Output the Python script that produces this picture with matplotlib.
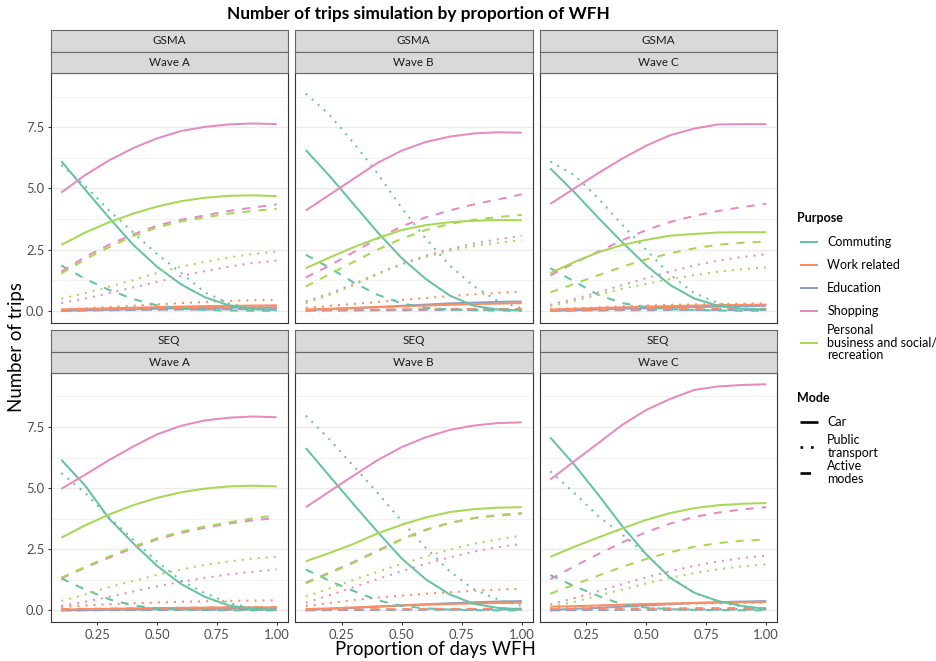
import matplotlib
matplotlib.use("Agg")
import matplotlib.pyplot as plt

plt.rcParams['font.family'] = ['Lato', 'DejaVu Sans']

W, H = 936, 661

# ---------------- data ----------------
wfh = [0.1, 0.2, 0.3, 0.4, 0.5, 0.6, 0.7, 0.8, 0.9, 1.0]

regions = ["GSMA", "SEQ"]
waves = ["Wave A", "Wave B", "Wave C"]
purposes = ["Commuting", "Work related", "Education", "Shopping",
            "Personal\nbusiness and social/\nrecreation"]
purpose_colors = ["#66C2A5", "#FC8D62", "#8DA0CB", "#E78AC3", "#A6D854"]
modes = ["Car", "Public\ntransport", "Active\nmodes"]

# each list: [Car, Public transport, Active modes]
GSMA_A_COMMUTING = [[6.12, 4.95, 3.8, 2.7, 1.8, 1.08, 0.55, 0.22, 0.07, 0.03],
                    [5.96, 5.1, 4.1, 3.2, 2.32, 1.55, 0.75, 0.3, 0.08, 0.02],
                    [1.85, 1.3, 0.85, 0.48, 0.22, 0.08, 0.03, 0.01, 0.0, 0.0]]
GSMA_A_WORK = [[0.05, 0.08, 0.1, 0.12, 0.15, 0.17, 0.19, 0.2, 0.21, 0.22],
               [0.05, 0.1, 0.15, 0.2, 0.26, 0.31, 0.36, 0.4, 0.43, 0.45],
               [0.02, 0.04, 0.06, 0.08, 0.1, 0.11, 0.12, 0.13, 0.14, 0.14]]
GSMA_A_EDUCATION = [[0.0, 0.02, 0.04, 0.06, 0.08, 0.1, 0.11, 0.12, 0.13, 0.13],
                    [0.0, 0.01, 0.02, 0.03, 0.04, 0.05, 0.06, 0.07, 0.08, 0.08],
                    [0.0, 0.01, 0.02, 0.03, 0.04, 0.05, 0.05, 0.06, 0.06, 0.06]]
GSMA_A_SHOPPING = [[4.83, 5.55, 6.15, 6.65, 7.05, 7.35, 7.52, 7.62, 7.66, 7.63],
                   [0.31, 0.5, 0.72, 0.95, 1.18, 1.42, 1.62, 1.8, 1.95, 2.05],
                   [1.6, 2.2, 2.7, 3.12, 3.48, 3.72, 3.9, 4.08, 4.22, 4.35]]
GSMA_A_PERSONAL = [[2.69, 3.2, 3.62, 3.97, 4.26, 4.48, 4.62, 4.7, 4.72, 4.69],
                   [0.49, 0.72, 0.98, 1.25, 1.55, 1.8, 2.0, 2.18, 2.32, 2.42],
                   [1.52, 2.1, 2.6, 3.05, 3.4, 3.65, 3.82, 3.97, 4.08, 4.17]]

GSMA_B_COMMUTING = [[6.57, 5.5, 4.35, 3.2, 2.15, 1.3, 0.62, 0.2, 0.05, 0.01],
                    [8.88, 8.0, 6.85, 5.6, 4.2, 2.95, 1.85, 1.0, 0.4, 0.1],
                    [2.29, 1.75, 1.15, 0.65, 0.3, 0.12, 0.05, 0.02, 0.01, 0.0]]
GSMA_B_WORK = [[0.05, 0.08, 0.12, 0.15, 0.18, 0.21, 0.24, 0.27, 0.29, 0.31],
               [0.12, 0.2, 0.28, 0.36, 0.44, 0.52, 0.6, 0.67, 0.73, 0.79],
               [0.03, 0.04, 0.05, 0.05, 0.06, 0.06, 0.07, 0.07, 0.07, 0.07]]
GSMA_B_EDUCATION = [[0.02, 0.06, 0.1, 0.15, 0.2, 0.25, 0.3, 0.33, 0.36, 0.38],
                    [0.0, 0.01, 0.02, 0.03, 0.04, 0.05, 0.05, 0.06, 0.06, 0.06],
                    [0.0, 0.01, 0.01, 0.02, 0.02, 0.03, 0.03, 0.03, 0.04, 0.04]]
GSMA_B_SHOPPING = [[4.1, 4.75, 5.4, 6.05, 6.55, 6.9, 7.12, 7.25, 7.3, 7.28],
                   [0.38, 0.7, 1.1, 1.52, 1.92, 2.25, 2.52, 2.75, 2.92, 3.07],
                   [1.36, 1.85, 2.4, 2.95, 3.45, 3.82, 4.1, 4.35, 4.55, 4.76]]
GSMA_B_PERSONAL = [[1.74, 2.18, 2.6, 2.97, 3.3, 3.5, 3.62, 3.68, 3.71, 3.7],
                   [0.31, 0.65, 1.05, 1.5, 1.9, 2.2, 2.45, 2.65, 2.78, 2.88],
                   [0.99, 1.5, 2.0, 2.5, 2.95, 3.3, 3.55, 3.72, 3.83, 3.92]]

GSMA_C_COMMUTING = [[5.82, 4.85, 3.8, 2.8, 1.85, 1.05, 0.5, 0.2, 0.08, 0.05],
                    [6.1, 5.55, 4.6, 3.51, 2.49, 1.47, 0.72, 0.31, 0.1, 0.04],
                    [1.74, 1.2, 0.65, 0.31, 0.14, 0.06, 0.03, 0.01, 0.0, 0.0]]
GSMA_C_WORK = [[0.05, 0.08, 0.11, 0.14, 0.17, 0.19, 0.21, 0.23, 0.24, 0.25],
               [0.06, 0.1, 0.14, 0.18, 0.21, 0.24, 0.26, 0.28, 0.29, 0.3],
               [0.02, 0.03, 0.04, 0.05, 0.06, 0.07, 0.07, 0.08, 0.08, 0.08]]
GSMA_C_EDUCATION = [[0.0, 0.02, 0.05, 0.08, 0.1, 0.13, 0.15, 0.17, 0.19, 0.2],
                    [0.0, 0.01, 0.02, 0.03, 0.04, 0.05, 0.05, 0.06, 0.06, 0.06],
                    [0.0, 0.01, 0.01, 0.02, 0.02, 0.03, 0.03, 0.03, 0.03, 0.03]]
GSMA_C_SHOPPING = [[4.37, 5.0, 5.63, 6.22, 6.75, 7.18, 7.45, 7.62, 7.63, 7.63],
                   [0.24, 0.48, 0.75, 1.05, 1.33, 1.6, 1.85, 2.05, 2.2, 2.31],
                   [1.44, 1.95, 2.42, 2.88, 3.3, 3.63, 3.88, 4.08, 4.24, 4.37]]
GSMA_C_PERSONAL = [[1.54, 1.99, 2.39, 2.69, 2.9, 3.07, 3.14, 3.2, 3.21, 3.21],
                   [0.18, 0.4, 0.65, 0.9, 1.1, 1.3, 1.45, 1.6, 1.7, 1.77],
                   [0.75, 1.1, 1.45, 1.8, 2.1, 2.35, 2.55, 2.7, 2.78, 2.83]]

SEQ_A_COMMUTING = [[6.16, 5.1, 3.75, 2.75, 1.82, 1.08, 0.55, 0.2, 0.06, 0.02],
                   [5.62, 4.8, 3.8, 2.9, 2.0, 1.22, 0.7, 0.3, 0.1, 0.03],
                   [1.31, 0.85, 0.45, 0.2, 0.08, 0.03, 0.01, 0.0, 0.0, 0.0]]
SEQ_A_WORK = [[0.03, 0.05, 0.06, 0.08, 0.09, 0.1, 0.11, 0.12, 0.12, 0.12],
              [0.14, 0.2, 0.25, 0.29, 0.32, 0.35, 0.37, 0.39, 0.4, 0.41],
              [0.05, 0.06, 0.07, 0.08, 0.09, 0.1, 0.11, 0.12, 0.13, 0.13]]
SEQ_A_EDUCATION = [[0.0, 0.01, 0.02, 0.03, 0.04, 0.05, 0.06, 0.07, 0.07, 0.08],
                   [0.0, 0.01, 0.01, 0.02, 0.02, 0.03, 0.03, 0.03, 0.04, 0.04],
                   [0.0, 0.0, 0.01, 0.01, 0.01, 0.02, 0.02, 0.02, 0.02, 0.02]]
SEQ_A_SHOPPING = [[4.97, 5.55, 6.15, 6.7, 7.2, 7.55, 7.77, 7.88, 7.93, 7.9],
                  [0.18, 0.35, 0.55, 0.77, 0.98, 1.17, 1.33, 1.47, 1.58, 1.67],
                  [1.3, 1.75, 2.15, 2.55, 2.9, 3.17, 3.38, 3.55, 3.68, 3.78]]
SEQ_A_PERSONAL = [[2.97, 3.48, 3.92, 4.3, 4.6, 4.83, 4.98, 5.07, 5.1, 5.07],
                  [0.38, 0.65, 0.95, 1.2, 1.45, 1.67, 1.86, 2.0, 2.12, 2.19],
                  [1.33, 1.78, 2.2, 2.6, 2.95, 3.22, 3.43, 3.6, 3.76, 3.89]]

SEQ_B_COMMUTING = [[6.64, 5.48, 4.33, 3.2, 2.12, 1.27, 0.65, 0.27, 0.1, 0.04],
                   [7.97, 6.98, 5.89, 4.8, 3.65, 2.56, 1.6, 0.86, 0.45, 0.18],
                   [1.67, 1.2, 0.79, 0.41, 0.18, 0.08, 0.03, 0.01, 0.0, 0.0]]
SEQ_B_WORK = [[0.05, 0.08, 0.12, 0.16, 0.2, 0.23, 0.26, 0.28, 0.3, 0.31],
              [0.18, 0.3, 0.42, 0.52, 0.6, 0.68, 0.74, 0.8, 0.85, 0.88],
              [0.03, 0.04, 0.04, 0.05, 0.05, 0.06, 0.06, 0.06, 0.07, 0.07]]
SEQ_B_EDUCATION = [[0.02, 0.06, 0.1, 0.15, 0.2, 0.25, 0.29, 0.33, 0.36, 0.38],
                   [0.0, 0.01, 0.02, 0.03, 0.03, 0.04, 0.04, 0.05, 0.05, 0.05],
                   [0.0, 0.01, 0.01, 0.01, 0.02, 0.02, 0.02, 0.02, 0.03, 0.03]]
SEQ_B_SHOPPING = [[4.22, 4.87, 5.52, 6.15, 6.68, 7.08, 7.38, 7.56, 7.66, 7.69],
                  [0.31, 0.62, 0.95, 1.28, 1.6, 1.9, 2.17, 2.4, 2.58, 2.72],
                  [1.13, 1.55, 1.98, 2.45, 2.92, 3.3, 3.58, 3.77, 3.88, 3.95]]
SEQ_B_PERSONAL = [[2.01, 2.35, 2.72, 3.15, 3.5, 3.8, 4.02, 4.14, 4.2, 4.22],
                  [0.56, 0.9, 1.25, 1.58, 1.9, 2.2, 2.48, 2.72, 2.9, 3.06],
                  [1.1, 1.52, 1.95, 2.42, 2.9, 3.28, 3.57, 3.78, 3.9, 3.98]]

SEQ_C_COMMUTING = [[7.07, 5.96, 4.73, 3.44, 2.29, 1.33, 0.72, 0.38, 0.18, 0.05],
                   [5.69, 4.8, 3.85, 3.1, 2.3, 1.35, 0.72, 0.35, 0.14, 0.04],
                   [1.44, 0.99, 0.59, 0.24, 0.11, 0.05, 0.02, 0.01, 0.0, 0.0]]
SEQ_C_WORK = [[0.15, 0.17, 0.2, 0.23, 0.26, 0.28, 0.3, 0.32, 0.33, 0.34],
              [0.1, 0.13, 0.16, 0.19, 0.22, 0.25, 0.27, 0.29, 0.3, 0.31],
              [0.05, 0.06, 0.07, 0.07, 0.08, 0.08, 0.09, 0.09, 0.09, 0.09]]
SEQ_C_EDUCATION = [[0.02, 0.06, 0.1, 0.15, 0.2, 0.25, 0.3, 0.33, 0.36, 0.38],
                   [0.0, 0.01, 0.02, 0.03, 0.03, 0.04, 0.04, 0.05, 0.05, 0.05],
                   [0.0, 0.01, 0.01, 0.02, 0.02, 0.02, 0.03, 0.03, 0.03, 0.03]]
SEQ_C_SHOPPING = [[5.35, 6.1, 6.84, 7.59, 8.2, 8.65, 9.02, 9.16, 9.22, 9.25],
                  [0.24, 0.5, 0.78, 1.07, 1.35, 1.6, 1.82, 2.0, 2.14, 2.24],
                  [1.27, 1.8, 2.3, 2.78, 3.2, 3.55, 3.82, 4.0, 4.13, 4.22]]
SEQ_C_PERSONAL = [[2.19, 2.6, 2.98, 3.35, 3.7, 3.98, 4.18, 4.3, 4.36, 4.39],
                  [0.14, 0.35, 0.6, 0.85, 1.1, 1.33, 1.53, 1.68, 1.8, 1.88],
                  [0.68, 1.05, 1.42, 1.78, 2.1, 2.38, 2.6, 2.75, 2.85, 2.9]]

panels = {
    ("GSMA", "Wave A"): [GSMA_A_COMMUTING, GSMA_A_WORK, GSMA_A_EDUCATION, GSMA_A_SHOPPING, GSMA_A_PERSONAL],
    ("GSMA", "Wave B"): [GSMA_B_COMMUTING, GSMA_B_WORK, GSMA_B_EDUCATION, GSMA_B_SHOPPING, GSMA_B_PERSONAL],
    ("GSMA", "Wave C"): [GSMA_C_COMMUTING, GSMA_C_WORK, GSMA_C_EDUCATION, GSMA_C_SHOPPING, GSMA_C_PERSONAL],
    ("SEQ", "Wave A"): [SEQ_A_COMMUTING, SEQ_A_WORK, SEQ_A_EDUCATION, SEQ_A_SHOPPING, SEQ_A_PERSONAL],
    ("SEQ", "Wave B"): [SEQ_B_COMMUTING, SEQ_B_WORK, SEQ_B_EDUCATION, SEQ_B_SHOPPING, SEQ_B_PERSONAL],
    ("SEQ", "Wave C"): [SEQ_C_COMMUTING, SEQ_C_WORK, SEQ_C_EDUCATION, SEQ_C_SHOPPING, SEQ_C_PERSONAL],
}

y_ticks = [0, 2.5, 5.0, 7.5]
y_tick_labels = ["0.0", "2.5", "5.0", "7.5"]
x_ticks = [0.25, 0.50, 0.75, 1.00]
x_tick_labels = ["0.25", "0.50", "0.75", "1.00"]

# ---------------- styling / layout ----------------
mode_styles = ["-", (0, (1, 3)), (0, (4, 4))]
LW = 1.45
draw_order = [2, 1, 0, 3, 4]  # Education, Work, Commuting, Shopping, Personal

col_x = [(50.5, 287.5), (295.0, 532.5), (539.5, 777.0)]
row_y = [(73.3, 322.7), (373.0, 622.3)]
strip_y = [(30.0, 51.7, 73.3), (330.0, 351.7, 373.0)]


def rect(x0, y0, x1, y1):
    return [x0 / W, 1 - y1 / H, (x1 - x0) / W, (y1 - y0) / H]


fig = plt.figure(figsize=(W / 100, H / 100), dpi=100)

for r, region in enumerate(regions):
    for c, wave in enumerate(waves):
        x0, x1 = col_x[c]
        y0, y1 = row_y[r]
        ax = fig.add_axes(rect(x0, y0, x1, y1))
        data = panels[(region, wave)]
        for p in draw_order:
            for m in range(3):
                ax.plot(wfh, data[p][m], color=purpose_colors[p],
                        linestyle=mode_styles[m], lw=LW,
                        dash_capstyle='butt', solid_capstyle='butt', zorder=3)
        ax.set_xlim(0.055, 1.045)
        ax.set_ylim(-0.49, 9.71)
        ax.set_yticks(y_ticks)
        ax.set_yticks([1.25, 3.75, 6.25, 8.75], minor=True)
        ax.set_xticks(x_ticks)
        ax.grid(axis='y', which='major', color='#EBEBEB', lw=1.0, zorder=0)
        ax.grid(axis='y', which='minor', color='#F0F0F0', lw=0.6, zorder=0)
        ax.set_axisbelow(True)
        for s in ax.spines.values():
            s.set_color('#333333')
            s.set_linewidth(0.8)
        ax.tick_params(which='minor', length=0)
        ax.tick_params(which='major', length=2.5, width=0.75, color='#333333',
                       labelcolor='#4D4D4D', labelsize=9.4, pad=2)
        if c == 0:
            ax.set_yticklabels(y_tick_labels)
        else:
            ax.tick_params(axis='y', left=False, labelleft=False)
        if r == 1:
            ax.set_xticklabels(x_tick_labels)
        else:
            ax.tick_params(axis='x', bottom=False, labelbottom=False)

        # strips
        sy0, sy1, sy2 = strip_y[r]
        for (a, b), label in (((sy0, sy1), region), ((sy1, sy2), wave)):
            sax = fig.add_axes(rect(x0, a, x1, b))
            sax.set_facecolor('#D9D9D9')
            sax.set_xticks([])
            sax.set_yticks([])
            for s in sax.spines.values():
                s.set_color('#666666')
                s.set_linewidth(0.8)
            sax.text(0.5, 0.5, label, ha='center', va='center', fontsize=8.4,
                     color='#1A1A1A', transform=sax.transAxes)

# overlay in pixel coordinates for titles & legend
ov = fig.add_axes([0, 0, 1, 1])
ov.set_xlim(0, W)
ov.set_ylim(H, 0)
ov.axis('off')

ov.text(418, 14.5, "Number of trips simulation by proportion of WFH",
        ha='center', va='center', fontsize=12.4, fontweight='bold', color='black')
ov.text(435, 650, "Proportion of days WFH", ha='center', va='center',
        fontsize=13.4, color='black')
ov.text(17, 347, "Number of trips", ha='center', va='center',
        fontsize=13.4, rotation=90, color='black')

# legend: Purpose
ov.text(797.5, 218, "Purpose", ha='left', va='center', fontsize=9.0,
        fontweight='bold')
purpose_key_y = [242.3, 265.0, 288.3, 311.0, 342.7]
for p in range(len(purposes)):
    y = purpose_key_y[p]
    ov.plot([800, 818], [y, y], color=purpose_colors[p], lw=LW,
            solid_capstyle='butt')
    ov.text(827.3, y, purposes[p], ha='left', va='center', fontsize=9.0,
            linespacing=1.05)

# legend: Mode
ov.text(797.5, 398.3, "Mode", ha='left', va='center', fontsize=9.0,
        fontweight='bold')
mode_key_y = [421.7, 446.5, 472.6]
for m in range(len(modes)):
    y = mode_key_y[m]
    ov.plot([800, 818], [y, y], color='black', lw=1.9,
            linestyle=mode_styles[m], dash_capstyle='butt',
            solid_capstyle='butt')
    ov.text(827.3, y, modes[m], ha='left', va='center', fontsize=9.0,
            linespacing=1.05)

fig.savefig("out.png", dpi=100)
